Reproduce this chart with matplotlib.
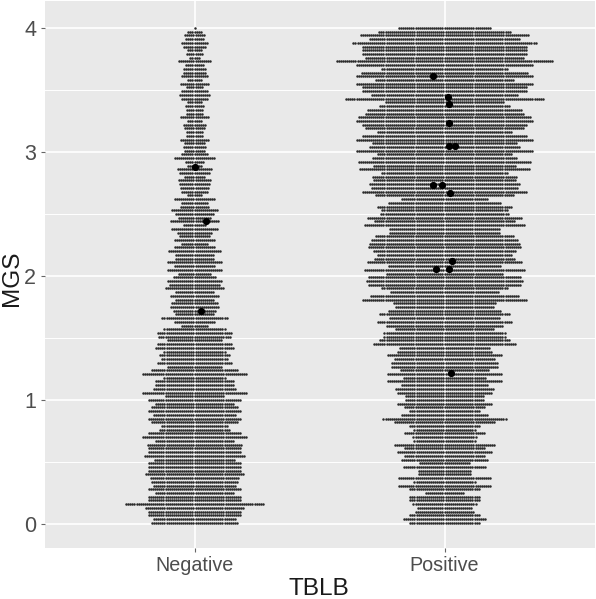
import numpy as np
import matplotlib
matplotlib.use("Agg")
import matplotlib.pyplot as plt

plt.rcParams['font.family'] = ['Liberation Sans', 'DejaVu Sans']

categories = ["Negative", "Positive"]
x_title = "TBLB"
y_title = "MGS"
y_ticks = [0, 1, 2, 3, 4]

# Dots per stacked row, from MGS 4.00 at the top downward in steps of 0.03
neg_counts = [1,7,10,9,13,11,7,8,5,16,9,11,11,13,7,14,8,13,15,13,7,9,8,8,14,7,11,10,
              8,8,14,10,11,10,13,20,9,7,17,15,10,16,15,14,13,7,20,13,14,23,19,16,24,11,
              23,17,15,20,13,20,26,19,19,27,20,27,16,21,27,25,29,19,24,19,23,24,21,19,32,20,
              13,30,36,35,27,36,38,30,34,32,36,27,42,51,30,38,38,40,51,29,45,
              38,42,45,40,45,42,32,34,45,51,38,46,45,45,49,39,45,45,45,48,43,42,40,45,38,45,45,67,48,45,45,40,42]
pos_counts = [45,64,82,73,89,80,80,80,77,105,86,61,81,86,67,86,80,80,71,96,58,63,75,77,84,86,80,77,
              65,80,86,70,73,86,65,70,84,69,83,61,70,69,73,71,80,67,42,55,65,
              61,62,75,68,78,54,54,67,71,73,74,69,65,68,75,55,78,57,74,76,74,61,53,72,80,50,48,55,63,54,65,57,48,59,59,63,69,44,46,56,49,52,52,43,56,40,
              56,42,48,46,38,38,46,39,34,42,60,49,34,30,39,31,30,49,39,46,39,42,25,40,26,26,45,30,45,34,19,34,34,31,27,29,34,40,34]

top_row = 4.0
row_step = 0.03
dot_step = 0.00828

# Highlighted larger points: offset from group centre and MGS
neg_big_dx = [0.0, 0.044, 0.025]
neg_big_y = [2.88, 2.44, 1.72]
pos_big_dx = [-0.047, 0.012, 0.018, 0.018, 0.018, 0.041, -0.047, -0.011, 0.02, 0.03, -0.036, 0.016, 0.026]
pos_big_y = [3.61, 3.44, 3.39, 3.23, 3.05, 3.05, 2.73, 2.73, 2.67, 2.12, 2.06, 2.06, 1.22]

W, H = 596, 599
fig = plt.figure(figsize=(W / 100, H / 100), dpi=100, facecolor="white")
L, R, T, B = 44.5, 594.5, 1.3, 547.7
ax = fig.add_axes([L / W, 1 - B / H, (R - L) / W, (B - T) / H], facecolor="#E9E9E9")
ax.set_xlim(0.4, 2.6)
ax.set_ylim(-0.191, 4.215)

for s in ax.spines.values():
    s.set_visible(False)

ax.set_axisbelow(True)
ax.set_yticks(y_ticks)
ax.set_yticks([0.5, 1.5, 2.5, 3.5], minor=True)
ax.set_xticks([1, 2])
ax.set_xticklabels(categories)
ax.grid(True, which="major", color="white", linewidth=1.2)
ax.grid(True, which="minor", axis="y", color="white", linewidth=0.7)
ax.tick_params(axis="both", which="major", length=3, width=0.8, color="#666666",
               labelcolor="#4D4D4D", labelsize=14.2, pad=3)
ax.tick_params(axis="y", which="minor", length=0)
ax.tick_params(axis="y", labelsize=15.5)

for pos, counts in zip([1, 2], [neg_counts, pos_counts]):
    xs, ys = [], []
    for i, n in enumerate(counts):
        off = (np.arange(n) - (n - 1) / 2) * dot_step
        xs.extend(pos + off)
        ys.extend([top_row - row_step * i] * n)
    ax.scatter(xs, ys, s=3.2, color="#2A2A2A", linewidths=0, zorder=3)

ax.scatter(1 + np.array(neg_big_dx), neg_big_y, s=27, color="black", linewidths=0, zorder=4)
ax.scatter(2 + np.array(pos_big_dx), pos_big_y, s=27, color="black", linewidths=0, zorder=4)

fig.text(319 / W, 1 - 589 / H, x_title, fontsize=17.6, color="#1A1A1A", ha="center", va="center")
fig.text(12.5 / W, 1 - 278 / H, y_title, fontsize=17.6, color="#1A1A1A", ha="center", va="center", rotation=90)

fig.savefig("out.png", dpi=100, facecolor="white")
